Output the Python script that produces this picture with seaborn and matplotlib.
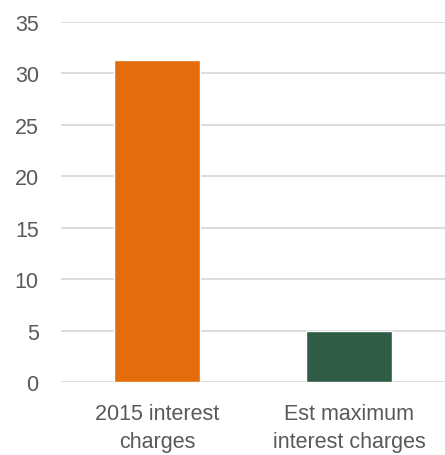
import matplotlib
matplotlib.use("Agg")
import matplotlib.pyplot as plt
import seaborn as sns
import pandas as pd

categories = ["2015 interest\ncharges", "Est maximum\ninterest charges"]
values = [31.3, 5.0]
colors = ["#E46C0A", "#2F5C45"]
yticks = [0, 5, 10, 15, 20, 25, 30, 35]

sns.set_theme(style="white")
plt.rcParams['font.family'] = ['Liberation Sans', 'DejaVu Sans']

df = pd.DataFrame({"cat": categories, "val": values})

fig = plt.figure(figsize=(4.45, 4.56), dpi=100)
ax = fig.add_axes([0.137, 0.160, 0.863, 0.7896])
sns.barplot(data=df, x="cat", y="val", hue="cat", palette=colors, legend=False,
            width=0.445, saturation=1, ax=ax, zorder=3)
ax.set_ylim(0, 35)
ax.set_xlim(-0.5, 1.5)
ax.set_yticks(yticks)
ax.set_yticklabels([str(t) for t in yticks])
ax.grid(axis="y", color="#D9D9D9", linewidth=1.3, zorder=0)
ax.set_axisbelow(True)
for s in ax.spines.values():
    s.set_visible(False)
ax.tick_params(axis="y", length=0, pad=16, labelsize=15.5, labelcolor="#595959")
ax.tick_params(axis="x", length=0, pad=15, labelsize=15.5, labelcolor="#595959")
for lbl in ax.get_xticklabels():
    lbl.set_linespacing(1.45)
ax.set_xlabel("")
ax.set_ylabel("")
fig.savefig("out.png", dpi=100)
